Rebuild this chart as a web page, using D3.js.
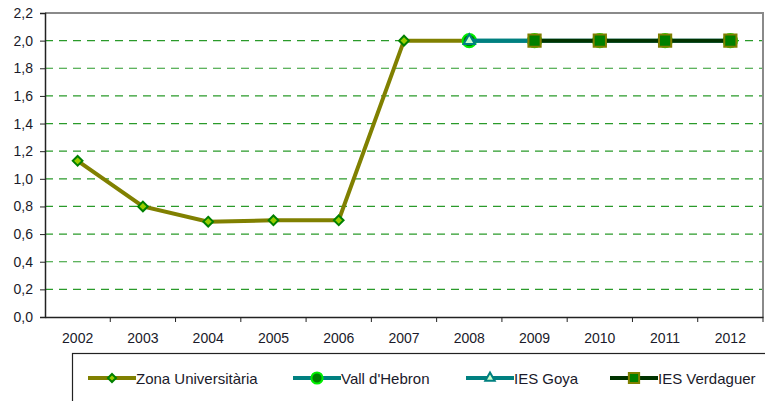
<!DOCTYPE html>
<html>
<head>
<meta charset="utf-8">
<script src="https://cdn.jsdelivr.net/npm/d3@7"></script>
<style>
  body { margin: 0; background: #fff; }
  text { font-family: "Liberation Sans", Arial, sans-serif; }
</style>
</head>
<body>
<svg id="chart" width="765" height="401"></svg>
<script>
// categories and values
const years = ["2002", "2003", "2004", "2005", "2006", "2007", "2008", "2009", "2010", "2011", "2012"];
const yTicks = [0, 0.2, 0.4, 0.6, 0.8, 1.0, 1.2, 1.4, 1.6, 1.8, 2.0, 2.2];

const zonaUniv = [1.13, 0.80, 0.69, 0.70, 0.70, 2.0, 2.0, null, null, null, null];
const vallHebron = [null, null, null, null, null, null, 2.0, 2.0, 2.0, 2.0, 2.0];
const iesGoya = [null, null, null, null, null, null, 2.0, 2.0, null, null, null];
const iesVerdaguer = [null, null, null, null, null, null, null, 2.0, 2.0, 2.0, 2.0];

const series = [
    { name: "Zona Universitària", values: zonaUniv, line: "#808000", marker: "diamond", fill: "#99cc00", stroke: "#008000", size: 60 },
    { name: "Vall d'Hebron", values: vallHebron, line: "#008080", marker: "circle", fill: "#008000", stroke: "#00ee00", size: 140 },
    { name: "IES Goya", values: iesGoya, line: "#008080", marker: "triangle", fill: "#ccffcc", stroke: "#008080", size: 55, markOnly: [6] },
    { name: "IES Verdaguer", values: iesVerdaguer, line: "#003300", marker: "square", fill: "#008000", stroke: "#808000", size: 150 }
];

const svg = d3.select("#chart");
const margin = { top: 13, right: 2, bottom: 84, left: 45 };
const width = 765 - margin.left - margin.right;
const height = 401 - margin.top - margin.bottom;

const g = svg.append("g").attr("transform", `translate(${margin.left},${margin.top})`);

const x = d3.scaleBand().domain(years).range([0, width]);
const y = d3.scaleLinear().domain([0, 2.2]).range([height, 0]);

// grid lines
g.selectAll("line.grid")
    .data(yTicks.filter(t => t > 0 && t < 2.2))
    .enter()
    .append("line")
    .attr("class", "grid")
    .attr("x1", 0)
    .attr("x2", width)
    .attr("y1", d => y(d))
    .attr("y2", d => y(d))
    .attr("stroke", "#2a9a2a")
    .attr("stroke-width", 1.2)
    .attr("stroke-dasharray", "8,6");

// frame top + right
g.append("path")
    .attr("d", `M0,0H${width}V${height}`)
    .attr("fill", "none")
    .attr("stroke", "#8a8a8a")
    .attr("stroke-width", 2);

// y axis
const yAxis = g.append("g")
    .call(d3.axisLeft(y).tickValues(yTicks).tickSize(5).tickPadding(7)
        .tickFormat(d => d3.format(".1f")(d).replace(".", ",")));
yAxis.select(".domain").attr("stroke", "#222").attr("stroke-width", 1.5);
yAxis.selectAll(".tick line").attr("stroke", "#222");
yAxis.selectAll("text").style("font-size", "14px").attr("fill", "#1a1a2a");

// x axis
const xAxis = g.append("g")
    .attr("transform", `translate(0,${height})`)
    .call(d3.axisBottom(x).tickSize(0).tickPadding(16));
xAxis.select(".domain").attr("stroke", "#222").attr("stroke-width", 1.5);
xAxis.selectAll("text").style("font-size", "14px").attr("fill", "#1a1a2a");
g.append("g")
    .selectAll("line")
    .data(years.slice(1).concat(["end"]))
    .enter()
    .append("line")
    .attr("x1", (d, i) => x.step() * (i + 1))
    .attr("x2", (d, i) => x.step() * (i + 1))
    .attr("y1", height)
    .attr("y2", height + 5)
    .attr("stroke", "#222");

const cx = d => x(d) + x.bandwidth() / 2;

const markerPath = (type, size) => {
    if (type === "diamond") return d3.symbol(d3.symbolDiamond2, size)();
    if (type === "circle") return d3.symbol(d3.symbolCircle, size)();
    if (type === "triangle") return d3.symbol(d3.symbolTriangle, size)();
    return d3.symbol(d3.symbolSquare, size)();
};

const line = d3.line()
    .defined(d => d.v !== null)
    .x(d => cx(d.year))
    .y(d => y(d.v));

series.forEach(s => {
    const pts = years.map((yr, i) => ({ year: yr, v: s.values[i], i: i }));
    g.append("path")
        .datum(pts)
        .attr("fill", "none")
        .attr("stroke", s.line)
        .attr("stroke-width", 4)
        .attr("d", line);

    const marked = pts.filter(p => p.v !== null && (!s.markOnly || s.markOnly.includes(p.i)));
    g.selectAll(null)
        .data(marked)
        .enter()
        .append("path")
        .attr("transform", d => `translate(${cx(d.year)},${y(d.v)})`)
        .attr("d", markerPath(s.marker, s.size))
        .attr("fill", s.fill)
        .attr("stroke", s.stroke)
        .attr("stroke-width", 2);
});

// legend
const legend = svg.append("g");
legend.append("rect")
    .attr("x", 72.5)
    .attr("y", 353.5)
    .attr("width", 720)
    .attr("height", 80)
    .attr("fill", "#fff")
    .attr("stroke", "#222")
    .attr("stroke-width", 1.2);

const legendX = [88, 293, 466, 610];
series.forEach((s, i) => {
    const lg = legend.append("g").attr("transform", `translate(${legendX[i]},378)`);
    lg.append("line")
        .attr("x1", 0).attr("x2", 48)
        .attr("stroke", s.line)
        .attr("stroke-width", 4);
    lg.append("path")
        .attr("transform", "translate(24,0)")
        .attr("d", markerPath(s.marker, s.size * 0.7))
        .attr("fill", s.fill)
        .attr("stroke", s.stroke)
        .attr("stroke-width", 2);
    lg.append("text")
        .attr("x", 48)
        .attr("y", 5.5)
        .style("font-size", "15px")
        .attr("fill", "#1a1a2a")
        .text(s.name);
});
</script>
</body>
</html>
